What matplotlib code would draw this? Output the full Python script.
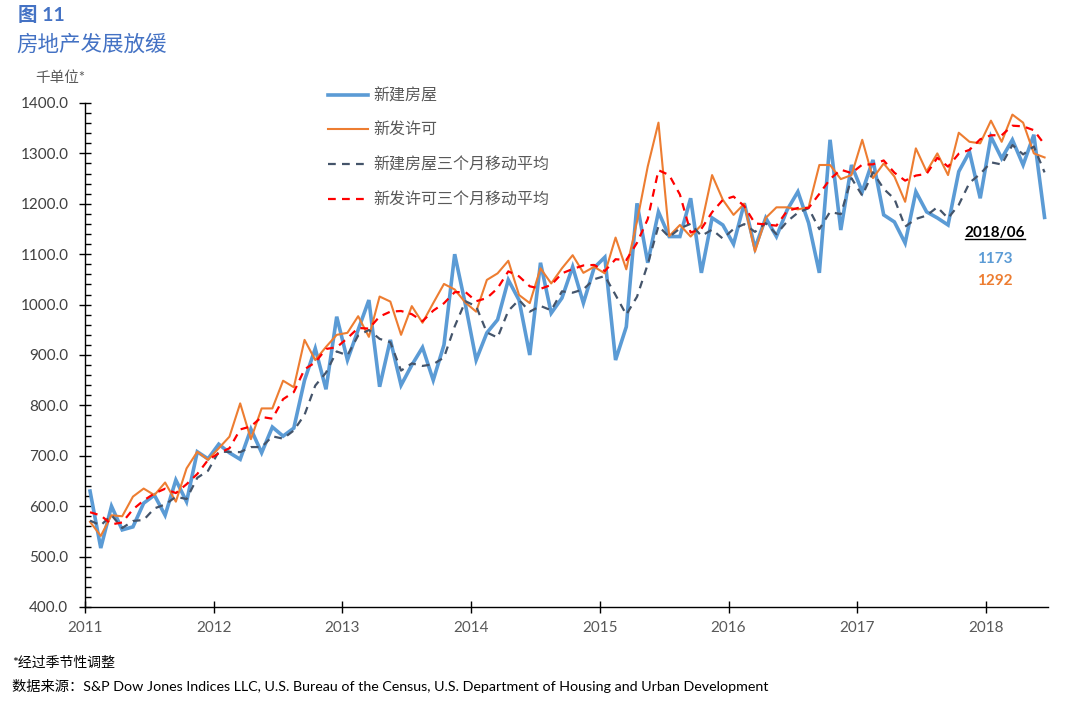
import numpy as np
import pandas as pd
import matplotlib
matplotlib.use("Agg")
import matplotlib.pyplot as plt
from matplotlib.ticker import MultipleLocator, FormatStrFormatter
from matplotlib.lines import Line2D

plt.rcParams['font.family'] = ['Lato', 'Noto Sans CJK SC', 'DejaVu Sans']

# Data (thousand units, SAAR), monthly Jan 2011 - Jun 2018 ------------
start_year = 2011
starts_prior = [545, 539]      # Nov/Dec 2010, only used for the 3m average
permits_prior = [560, 635]

starts = [
    630, 517, 600, 553, 559, 606, 622, 582, 652, 609, 708, 694,        # 2011
    723, 706, 693, 753, 706, 757, 739, 755, 850, 913, 832, 976,        # 2012
    890, 950, 1009, 837, 930, 840, 880, 915, 850, 920, 1100, 1000,     # 2013
    890, 944, 970, 1049, 1009, 900, 1083, 983, 1013, 1075, 1003, 1073, # 2014
    1094, 890, 956, 1201, 1083, 1184, 1135, 1135, 1211, 1063, 1172, 1158,  # 2015
    1120, 1201, 1112, 1172, 1135, 1188, 1224, 1162, 1063, 1327, 1148, 1277, # 2016
    1224, 1287, 1178, 1164, 1122, 1224, 1184, 1172, 1158, 1264, 1303, 1211, # 2017
    1333, 1290, 1327, 1277, 1337, 1173,                                  # 2018
]
permits = [
    569, 541, 582, 580, 619, 635, 622, 647, 609, 675, 708, 692,
    715, 738, 804, 733, 794, 794, 849, 836, 930, 890, 916, 940,
    944, 977, 936, 1016, 1006, 940, 997, 964, 1003, 1041, 1030, 1004,
    986, 1049, 1062, 1087, 1019, 1003, 1072, 1042, 1072, 1098, 1063, 1075,
    1062, 1133, 1070, 1165, 1274, 1361, 1136, 1158, 1135, 1158, 1257, 1208,
    1178, 1200, 1105, 1172, 1193, 1193, 1189, 1193, 1277, 1277, 1249, 1257,
    1327, 1251, 1280, 1254, 1204, 1310, 1264, 1300, 1257, 1341, 1323, 1320,
    1365, 1323, 1377, 1361, 1300, 1292,
]

legend_labels = ["新建房屋", "新发许可", "新建房屋三个月移动平均", "新发许可三个月移动平均"]
year_ticks = list(range(2011, 2019))

# 3 month moving averages (trailing)
starts_ma = pd.Series(starts_prior + starts).rolling(3).mean().iloc[2:].values
permits_ma = pd.Series(permits_prior + permits).rolling(3).mean().iloc[2:].values

x = start_year + (np.arange(len(starts)) + 0.47) / 12

# Plot ----------------
fig = plt.figure(figsize=(10.8, 7.05), dpi=100)
ax = fig.add_axes([85 / 1080, 1 - 607 / 705, (1048 - 85) / 1080, (607 - 103) / 705])

ax.plot(x, starts, color="#5B9BD5", lw=2.6, label=legend_labels[0], solid_joinstyle="miter")
ax.plot(x, permits, color="#ED7D31", lw=1.5, label=legend_labels[1])
ax.plot(x, starts_ma, color="#44546A", lw=1.6, ls=(0, (3.5, 2.8)), label=legend_labels[2])
ax.plot(x, permits_ma, color="#FF0000", lw=1.6, ls=(0, (3.5, 2.8)), label=legend_labels[3])

ax.set_xlim(2011, 2011 + (1048 - 85) / 128.7)
ax.set_ylim(400, 1400)
ax.set_xticks(year_ticks)
ax.set_xticklabels([str(y) for y in year_ticks])
ax.yaxis.set_major_locator(MultipleLocator(100))
ax.yaxis.set_minor_locator(MultipleLocator(20))
ax.yaxis.set_major_formatter(FormatStrFormatter("%.1f"))

for s in ["top", "right"]:
    ax.spines[s].set_visible(False)
for s in ["left", "bottom"]:
    ax.spines[s].set_color("black")
    ax.spines[s].set_linewidth(1.0)

ax.tick_params(axis="y", which="major", direction="inout", length=8, width=1,
               labelsize=11, labelcolor="#404040", pad=8)
ax.tick_params(axis="y", which="minor", direction="in", length=4, width=1)
ax.tick_params(axis="x", which="major", direction="inout", length=8, width=1,
               labelsize=11, labelcolor="#595959", pad=6)

leg = ax.legend(loc="upper left", bbox_to_anchor=(328 / 1080, 1 - 88 / 705),
                bbox_transform=fig.transFigure, frameon=False, fontsize=11.5,
                handlelength=2.5, handletextpad=0.35, labelspacing=1.23,
                borderpad=0, borderaxespad=0)
for t in leg.get_texts():
    t.set_color("#595959")

# Titles and notes
fig.text(18 / 1080, 1 - 15 / 705, "图 11", color="#4472C4", fontsize=14, fontweight="bold",
         va="center", ha="left")
fig.text(16 / 1080, 1 - 45 / 705, "房地产发展放缓", color="#4472C4", fontsize=15.5,
         va="center", ha="left")
fig.text(35 / 1080, 1 - 78 / 705, "千单位*", color="#595959", fontsize=10.5, va="center", ha="left")

t_date = fig.text(995 / 1080, 1 - 233 / 705, "2018/06", color="black", fontsize=11,
                  fontweight="bold", ha="center", va="center")
fig.text(995 / 1080, 1 - 259 / 705, str(starts[-1]), color="#5B9BD5", fontsize=11,
         fontweight="bold", ha="center", va="center")
fig.text(995 / 1080, 1 - 281 / 705, str(permits[-1]), color="#ED7D31", fontsize=11,
         fontweight="bold", ha="center", va="center")

fig.text(12 / 1080, 1 - 662 / 705, "*经过季节性调整", color="black", fontsize=10,
         va="center", ha="left")
fig.text(12 / 1080, 1 - 686 / 705,
         "数据来源：S&P Dow Jones Indices LLC, U.S. Bureau of the Census, U.S. Department of Housing and Urban Development",
         color="black", fontsize=10.3, va="center", ha="left")

# underline for the date label
fig.canvas.draw()
bb = t_date.get_window_extent().transformed(fig.transFigure.inverted())
fig.add_artist(Line2D([bb.x0, bb.x1], [bb.y0 + 0.001, bb.y0 + 0.001], color="black", lw=1,
                      transform=fig.transFigure))

fig.savefig("out.png", dpi=100)
